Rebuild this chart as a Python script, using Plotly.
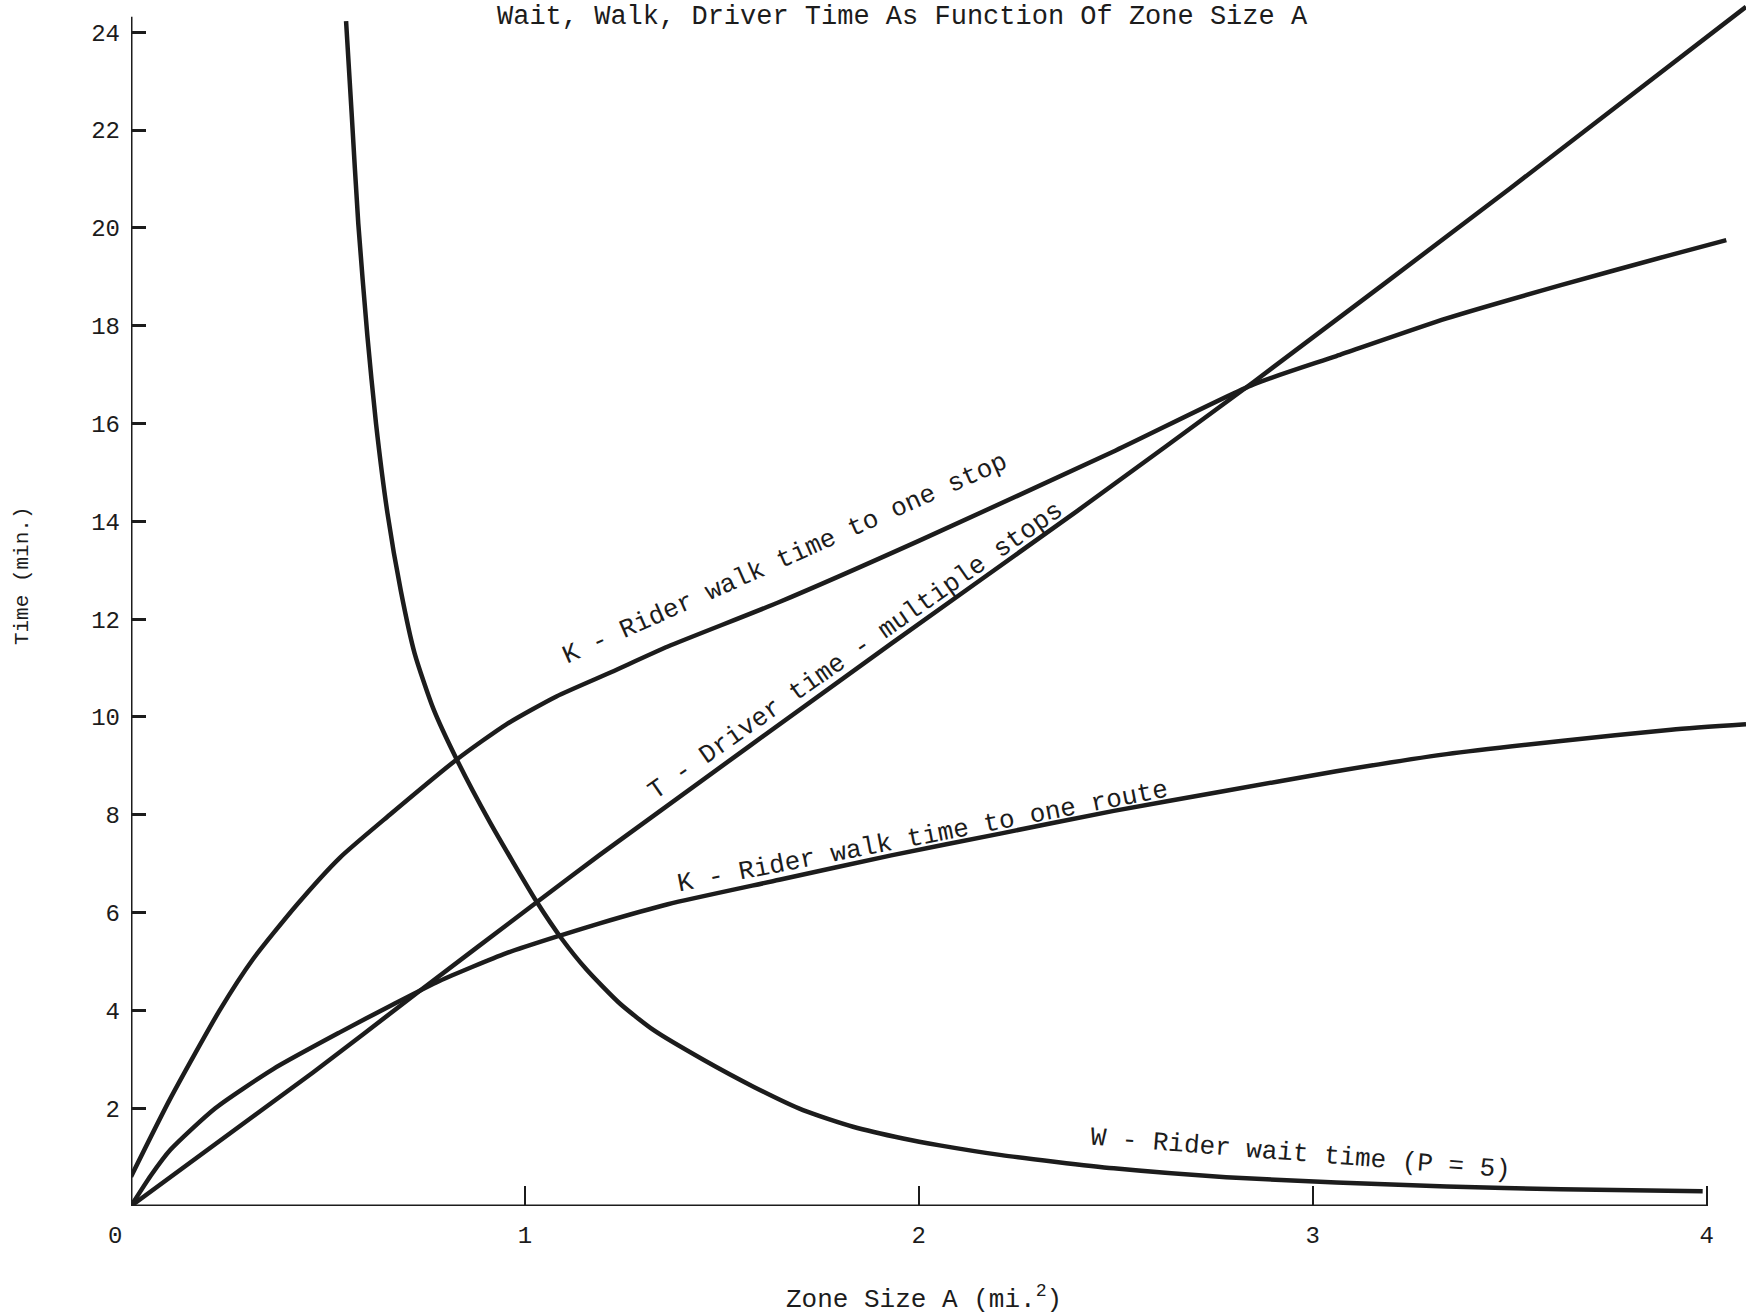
import plotly.graph_objects as go

# ---- data ----
w_x = [0.546, 0.56, 0.577, 0.60, 0.622, 0.651, 0.685, 0.72, 0.767, 0.827, 0.911, 1.03,
       1.093, 1.157, 1.241, 1.326, 1.453, 1.58, 1.706, 1.833, 1.96, 2.053, 2.21, 2.495,
       2.78, 3.06, 3.34, 3.63, 3.99]
w_y = [24.23, 22.36, 20.09, 17.8, 16.0, 14.17, 12.58, 11.3, 10.18, 9.13, 7.85, 6.22,
       5.47, 4.83, 4.14, 3.60, 2.99, 2.44, 1.96, 1.62, 1.38, 1.24, 1.04, 0.77,
       0.59, 0.48, 0.40, 0.34, 0.30]

kstop_x = [0.0, 0.1, 0.225, 0.31, 0.42, 0.53, 0.657, 0.827, 0.953, 1.08, 1.22, 1.363,
           1.646, 2.0, 2.5, 2.85, 3.06, 3.34, 3.63, 3.91, 4.05]
kstop_y = [0.6, 2.2, 4.0, 5.05, 6.15, 7.12, 8.0, 9.13, 9.85, 10.42, 10.92, 11.44,
           12.35, 13.6, 15.45, 16.8, 17.38, 18.15, 18.83, 19.45, 19.75]

t_x = [0.0, 0.462, 0.725, 1.03, 1.19, 1.93, 2.4, 2.85, 3.5, 4.1]
t_y = [0.0, 2.73, 4.35, 6.21, 7.18, 11.5, 14.2, 16.85, 20.8, 24.52]

kroute_x = [0.0, 0.05, 0.1, 0.214, 0.361, 0.53, 0.665, 0.783, 0.953, 1.089, 1.19, 1.363,
            1.646, 1.93, 2.21, 2.495, 2.78, 3.06, 3.34, 3.63, 3.91, 4.10]
kroute_y = [0.0, 0.62, 1.15, 2.0, 2.8, 3.55, 4.12, 4.6, 5.17, 5.53, 5.78, 6.17,
            6.67, 7.17, 7.62, 8.08, 8.49, 8.89, 9.24, 9.51, 9.74, 9.85]

y_ticks = [2, 4, 6, 8, 10, 12, 14, 16, 18, 20, 22, 24]
x_ticks = [1, 2, 3, 4]

INK = "#1c1c1c"
FONT = "Liberation Mono"

fig = go.Figure()
for xs, ys in [(w_x, w_y), (kstop_x, kstop_y), (t_x, t_y), (kroute_x, kroute_y)]:
    fig.add_trace(go.Scatter(x=xs, y=ys, mode="lines",
                             line=dict(color=INK, width=4.5, shape="spline", smoothing=0.6),
                             showlegend=False, hoverinfo="skip"))

# axis lines
fig.add_shape(type="line", xref="x", yref="y", x0=0, x1=0, y0=0, y1=24.32,
              line=dict(color=INK, width=3))
fig.add_shape(type="line", xref="x", yref="y", x0=0, x1=4.0, y0=0, y1=0,
              line=dict(color=INK, width=3))

labels = [
    ("K - Rider walk time to one stop", 1.66, 13.24, -24),
    ("T - Driver time - multiple stops", 1.84, 11.35, -35),
    ("K - Rider walk time to one route", 2.01, 7.55, -11),
    ("W - Rider wait time (P = 5)", 2.97, 1.07, 4.5),
]
for txt, x, y, ang in labels:
    fig.add_annotation(text=txt, x=x, y=y, xref="x", yref="y", showarrow=False,
                       textangle=ang, font=dict(family=FONT, size=26, color=INK))

fig.add_annotation(text="0", x=0, y=0, xref="x", yref="y", showarrow=False,
                   xshift=-16, yshift=-30, font=dict(family=FONT, size=24, color=INK))
fig.add_annotation(text="Wait, Walk, Driver Time As Function Of Zone Size A",
                   x=0.4774, y=1, xref="paper", yref="paper", xanchor="center", yanchor="middle",
                   yshift=-17, showarrow=False, font=dict(family=FONT, size=27, color=INK))
fig.add_annotation(text="Zone Size A (mi.<sup>2</sup>)", x=0.491, y=0, xref="paper", yref="paper",
                   xanchor="center", yanchor="middle", yshift=-92, showarrow=False,
                   font=dict(family=FONT, size=26, color=INK))
fig.add_annotation(text="Time (min.)", x=-0.0675, y=12.9, xref="paper", yref="y",
                   xanchor="center", yanchor="middle",
                   textangle=-90, showarrow=False, font=dict(family=FONT, size=21, color=INK))

fig.update_xaxes(range=[0, 4.1], tickvals=x_ticks, ticktext=[str(v) for v in x_ticks],
                 ticks="inside", ticklen=20, tickwidth=2, tickcolor=INK, automargin=False,
                 showgrid=False, zeroline=False, showline=False, ticklabelstandoff=12,
                 tickfont=dict(family=FONT, size=24, color=INK))
fig.update_yaxes(range=[0, 24.66], tickvals=y_ticks, ticktext=[str(v) for v in y_ticks],
                 ticks="inside", ticklen=15, tickwidth=2.5, tickcolor=INK, automargin=False,
                 showgrid=False, zeroline=False, showline=False, ticklabelstandoff=10,
                 tickfont=dict(family=FONT, size=24, color=INK))
fig.update_layout(width=1746, height=1314, margin=dict(l=131, r=0, t=0, b=108, autoexpand=False),
                  paper_bgcolor="white", plot_bgcolor="white")

fig.write_html("out.html", config={"displayModeBar": False},
               post_script="document.body.style.margin='0';document.body.style.overflow='hidden';")
